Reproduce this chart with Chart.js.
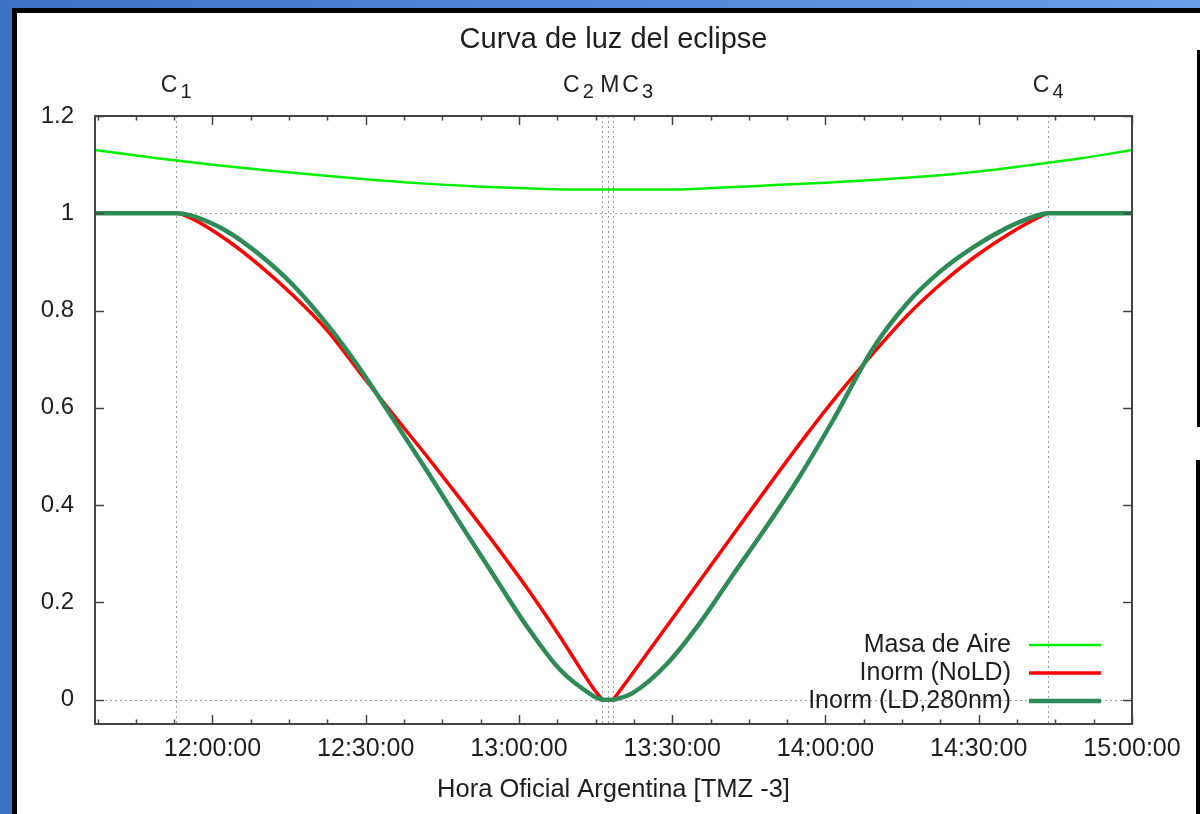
<!DOCTYPE html>
<html lang="es">
<head>
  <meta charset="UTF-8">
  <title>Curva de luz del eclipse</title>
  <style>
    html, body {
      margin: 0;
      padding: 0;
      width: 1200px;
      height: 814px;
      overflow: hidden;
    }
    body {
      position: relative;
      background: linear-gradient(90deg, #3c72c4 0%, #4f86d6 45%, #6aa0ea 100%);
    }
    #frame {
      position: absolute;
      left: 12px;
      top: 8px;
      width: 1183px;
      height: 820px;
      background: #fff;
      border-left: 5px solid #000;
      border-top: 5px solid #000;
    }
    .edge {
      position: absolute;
      background: #000;
    }
    #chart {
      position: absolute;
      left: 0;
      top: 0;
    }
  </style>
</head>
<body>
  <div id="frame"></div>
  <div class="edge" style="left:1197px; top:50px; width:3px; height:377px;"></div>
  <div class="edge" style="left:1196px; top:460px; width:4px; height:354px;"></div>
  <canvas id="chart" width="1200" height="814"></canvas>

  <script src="https://cdn.jsdelivr.net/npm/chart.js"></script>
  <script>
    // time samples (hora oficial) for the two eclipse curves
    const eclipseTimes = ['11:37:00', '11:52:54', '11:56:12', '12:02:48', '12:09:18', '12:15:48', '12:22:24',
      '12:28:54', '12:35:18', '12:42:00', '12:48:30', '12:54:54', '13:01:36', '13:08:00', '13:14:30',
      '13:15:42', '13:16:18', '13:18:24', '13:19:00', '13:22:18', '13:29:00', '13:35:30', '13:41:54',
      '13:48:36', '13:55:00', '14:01:30', '14:09:18', '14:16:00', '14:22:24', '14:28:54', '14:35:30',
      '14:39:24', '14:42:00', '14:43:36', '15:00:00'];
    const inormNoLD = [1, 1, 0.988, 0.945, 0.892, 0.831, 0.760, 0.672, 0.587, 0.500, 0.413, 0.325, 0.229,
      0.130, 0.024, 0.008, 0, 0, 0.008, 0.055, 0.152, 0.246, 0.339, 0.436, 0.527, 0.615, 0.712, 0.790,
      0.853, 0.908, 0.955, 0.979, 0.993, 1, 1];
    const inormLD = [1, 1, 0.994, 0.963, 0.914, 0.852, 0.772, 0.680, 0.578, 0.470, 0.362, 0.258, 0.150,
      0.062, 0.008, 0.002, 0, 0, 0.001, 0.014, 0.074, 0.159, 0.257, 0.358, 0.460, 0.575, 0.722, 0.815,
      0.880, 0.930, 0.970, 0.988, 0.997, 1, 1];

    // air mass
    const airTimes = ['11:37:00', '11:50:00', '12:00:00', '12:10:00', '12:20:00', '12:30:00', '12:40:00',
      '12:50:00', '13:00:00', '13:10:00', '13:20:00', '13:30:00', '13:40:00', '13:50:00', '14:00:00',
      '14:10:00', '14:20:00', '14:30:00', '14:40:00', '14:50:00', '15:00:00'];
    const airMass = [1.130, 1.112, 1.100, 1.089, 1.079, 1.070, 1.062, 1.056, 1.052, 1.049, 1.049, 1.049,
      1.053, 1.058, 1.063, 1.069, 1.076, 1.086, 1.099, 1.113, 1.130];

    // contacts
    const contactNames = ['C1', 'C2', 'M', 'C3', 'C4'];
    const contactTimes = ['11:52:54', '13:16:18', '13:17:26', '13:18:24', '14:43:36'];
    // "_" = subscript next char, "^" = small gap
    const contactLabels = [['C1', 'C_1'], ['M', 'C_2 M^C_3'], ['C4', 'C_4']];

    const xRange = ['11:37:00', '15:00:00'];
    const xTickLabels = ['12:00:00', '12:30:00', '13:00:00', '13:30:00', '14:00:00', '14:30:00', '15:00:00'];
    const yTicks = [0, 0.2, 0.4, 0.6, 0.8, 1, 1.2];
    const yGridLines = [0, 1];

    function toMin(t) {
      const p = t.split(':').map(Number);
      return p[0] * 60 + p[1] + p[2] / 60;
    }
    function fmtTime(m) {
      const s = Math.round(m * 60);
      const pad = n => String(n).padStart(2, '0');
      return pad(Math.floor(s / 3600)) + ':' + pad(Math.floor(s / 60) % 60) + ':' + pad(s % 60);
    }
    function pts(times, vals) {
      return times.map((t, i) => ({ x: toMin(t), y: vals[i] }));
    }

    const textColor = '#1e1e1e';
    const axisColor = '#444';
    const FONT = '"Liberation Sans", Arial, sans-serif';
    Chart.defaults.font.family = FONT;

    const overlay = {
      id: 'overlay',
      beforeDatasetsDraw(chart) {
        const { ctx, chartArea: a, scales: { x, y } } = chart;
        ctx.save();
        ctx.strokeStyle = '#9a9a9a';
        ctx.lineWidth = 1;
        ctx.setLineDash([2, 3]);
        contactTimes.forEach(t => {
          const px = Math.round(x.getPixelForValue(toMin(t))) + 0.5;
          ctx.beginPath();
          ctx.moveTo(px, a.top);
          ctx.lineTo(px, a.bottom);
          ctx.stroke();
        });
        yGridLines.forEach(v => {
          const py = Math.round(y.getPixelForValue(v)) + 0.5;
          ctx.beginPath();
          ctx.moveTo(a.left, py);
          ctx.lineTo(a.right, py);
          ctx.stroke();
        });
        ctx.restore();
      },
      afterDatasetsDraw(chart) {
        const { ctx, chartArea: a, scales: { x, y } } = chart;
        ctx.save();
        // ticks (inside, mirrored)
        ctx.strokeStyle = axisColor;
        ctx.lineWidth = 1.5;
        const tick = (x1, y1, x2, y2) => { ctx.beginPath(); ctx.moveTo(x1, y1); ctx.lineTo(x2, y2); ctx.stroke(); };
        for (let m = toMin(xRange[0]) + 0.5; m <= toMin(xRange[1]) + 0.01; m += 7.5) {
          const px = Math.round(x.getPixelForValue(m)) + 0.5;
          const major = Math.abs(m % 30) < 0.01;
          const len = major ? 9 : 4.5;
          tick(px, a.bottom, px, a.bottom - len);
          tick(px, a.top, px, a.top + len);
        }
        yTicks.forEach(v => {
          const py = Math.round(y.getPixelForValue(v)) + 0.5;
          tick(a.left, py, a.left + 9, py);
          tick(a.right, py, a.right - 9, py);
        });
        // frame
        ctx.lineWidth = 2;
        ctx.strokeRect(a.left, a.top, a.right - a.left, a.bottom - a.top);

        // contact labels above the plot
        ctx.fillStyle = textColor;
        ctx.textBaseline = 'alphabetic';
        ctx.textAlign = 'left';
        const mainFont = '23px ' + FONT;
        const subFont = '20px ' + FONT;
        contactLabels.forEach(([at, text]) => {
          const parts = [];
          for (let i = 0; i < text.length; i++) {
            if (text[i] === '_') { parts.push([text[i + 1], true]); i++; }
            else parts.push([text[i], false]);
          }
          const widthOf = p => {
            if (p[0] === '^') return 3;
            ctx.font = p[1] ? subFont : mainFont;
            return ctx.measureText(p[0]).width + (p[1] ? 3 : 0);
          };
          const w = parts.reduce((s, p) => s + widthOf(p), 0);
          const cx = x.getPixelForValue(toMin(contactTimes[contactNames.indexOf(at)]));
          let px = cx - w / 2;
          parts.forEach(p => {
            const pw = widthOf(p);
            if (p[0] !== '^') {
              ctx.font = p[1] ? subFont : mainFont;
              ctx.fillText(p[0], px + (p[1] ? 3 : 0), p[1] ? 98 : 92);
            }
            px += pw;
          });
        });

        // key
        ctx.font = '25px ' + FONT;
        ctx.textAlign = 'right';
        ctx.textBaseline = 'middle';
        ctx.setLineDash([]);
        chart.data.datasets.forEach((ds, i) => {
          const ky = 645 + i * 28;
          ctx.fillStyle = textColor;
          ctx.fillText(ds.label, 1011, ky);
          ctx.strokeStyle = ds.borderColor;
          ctx.lineWidth = ds.borderWidth;
          ctx.beginPath();
          ctx.moveTo(1029, ky);
          ctx.lineTo(1101, ky);
          ctx.stroke();
        });
        ctx.restore();
      }
    };

    new Chart(document.getElementById('chart'), {
      type: 'line',
      data: {
        datasets: [
          { label: 'Masa de Aire', data: pts(airTimes, airMass), borderColor: '#00ee00', borderWidth: 2.5, order: 2 },
          { label: 'Inorm (NoLD)', data: pts(eclipseTimes, inormNoLD), borderColor: '#ff0000', borderWidth: 3.5, order: 1 },
          { label: 'Inorm (LD,280nm)', data: pts(eclipseTimes, inormLD), borderColor: '#2e8b57', borderWidth: 4.5, order: 0 }
        ]
      },
      options: {
        responsive: false,
        animation: false,
        devicePixelRatio: 1,
        parsing: false,
        elements: {
          point: { radius: 0 },
          line: { cubicInterpolationMode: 'monotone', fill: false }
        },
        layout: { padding: { left: 0, right: 68, top: 0, bottom: 0 } },
        plugins: {
          legend: { display: false },
          tooltip: { enabled: false },
          title: {
            display: true,
            fullSize: false,
            text: 'Curva de luz del eclipse',
            color: textColor,
            font: { size: 29, weight: 'normal' },
            padding: { top: 22.6, bottom: 58.6 }
          }
        },
        scales: {
          x: {
            type: 'linear',
            min: toMin(xRange[0]),
            max: toMin(xRange[1]),
            afterBuildTicks: s => { s.ticks = xTickLabels.map(t => ({ value: toMin(t) })); },
            afterFit: s => { s.height = 90; },
            grid: { display: false, drawTicks: false },
            border: { display: false },
            ticks: { padding: 10, color: textColor, font: { size: 25 }, maxRotation: 0, autoSkip: false, callback: v => fmtTime(v) },
            title: {
              display: true,
              text: 'Hora Oficial Argentina [TMZ -3]',
              color: textColor,
              font: { size: 25.5 },
              padding: { top: 0, bottom: 8.7 }
            }
          },
          y: {
            min: -0.05,
            max: 1.2,
            afterBuildTicks: s => { s.ticks = yTicks.map(v => ({ value: v })); },
            afterFit: s => { s.width = 95; },
            grid: { display: false, drawTicks: false },
            border: { display: false },
            ticks: { padding: 21, color: textColor, font: { size: 24 }, callback: v => String(v) }
          }
        }
      },
      plugins: [overlay]
    });
  </script>
</body>
</html>
